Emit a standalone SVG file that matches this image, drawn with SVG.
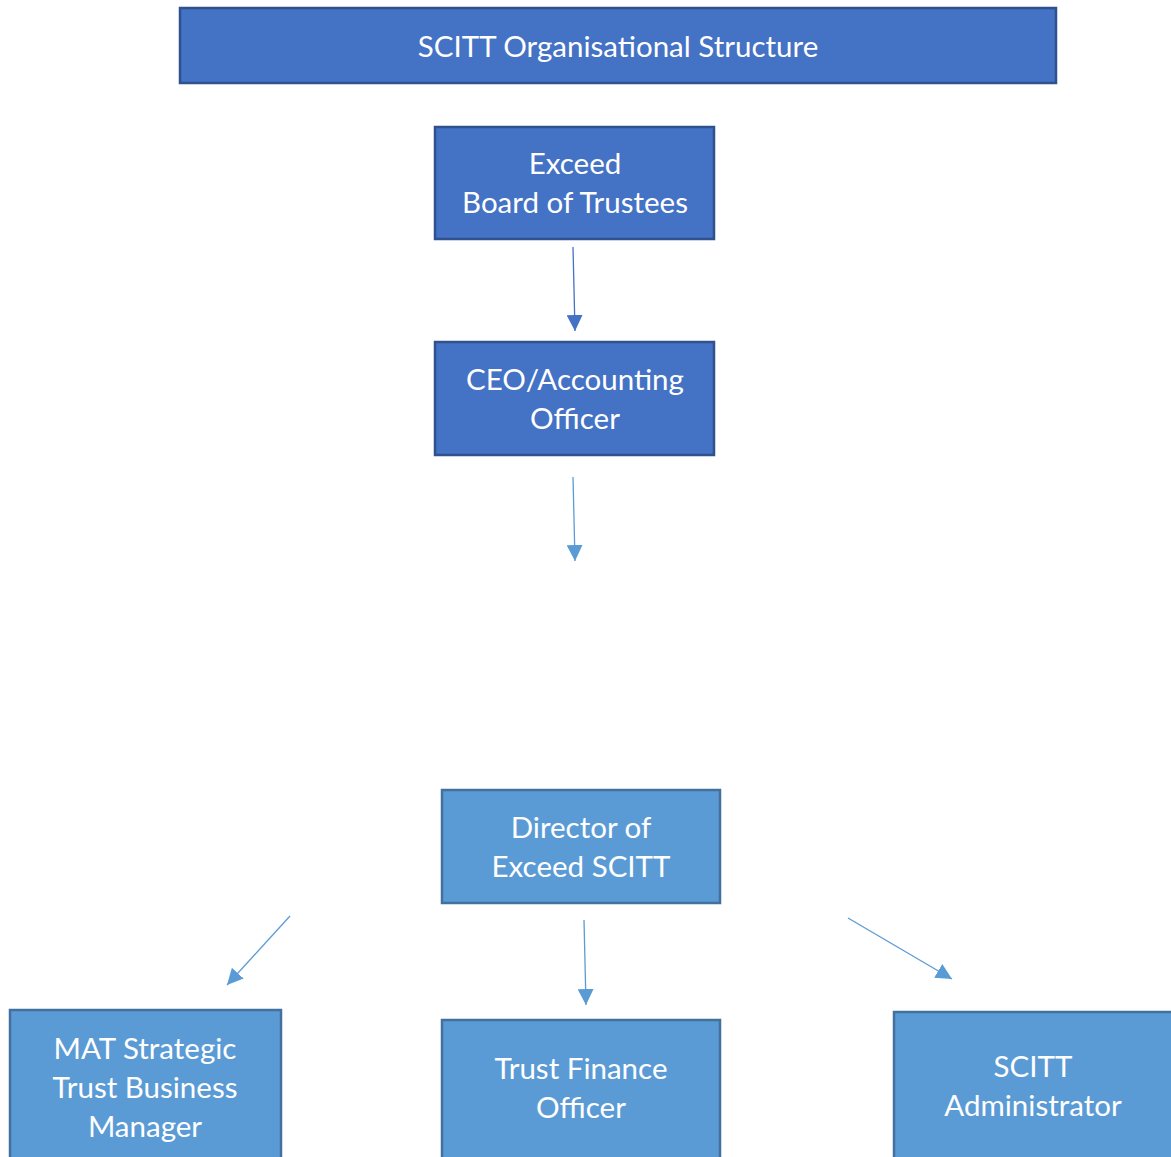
<svg xmlns="http://www.w3.org/2000/svg" width="1171" height="1157" viewBox="0 0 1171 1157">
<defs>
<style>
.dark{fill:#4472C4;stroke:#2F528F;stroke-width:2.5}
.light{fill:#5B9BD5;stroke:#41719C;stroke-width:2.5}
.t{font-family:Lato,"Open Sans",sans-serif;font-size:29.5px;fill:#ffffff;text-anchor:middle}
.c1{stroke:#4472C4;stroke-width:1.3;fill:none}
.c2{stroke:#5B9BD5;stroke-width:1.3;fill:none}
</style>
<marker id="ad" viewBox="0 0 10 10" refX="10" refY="5" markerWidth="16" markerHeight="16" markerUnits="userSpaceOnUse" orient="auto"><path d="M0,0 L10,5 L0,10 z" fill="#4472C4"/></marker>
<marker id="al" viewBox="0 0 10 10" refX="10" refY="5" markerWidth="16" markerHeight="16" markerUnits="userSpaceOnUse" orient="auto"><path d="M0,0 L10,5 L0,10 z" fill="#5B9BD5"/></marker>
</defs>
<rect width="1171" height="1157" fill="#ffffff"/>
<g id="title"><rect class="dark" x="180" y="8" width="876" height="75"/><text class="t" x="618" y="57">SCITT Organisational Structure</text></g>
<g id="board"><rect class="dark" x="435" y="127" width="279" height="112"/><text class="t" x="575" y="174">Exceed</text><text class="t" x="575" y="213">Board of Trustees</text></g>
<g id="ceo"><rect class="dark" x="435" y="342" width="279" height="113"/><text class="t" x="575" y="390">CEO/Accounting</text><text class="t" x="575" y="429">Officer</text></g>
<g id="director"><rect class="light" x="442" y="790" width="278" height="113"/><text class="t" x="581" y="838">Director of</text><text class="t" x="581" y="877">Exceed SCITT</text></g>
<g id="mat"><rect class="light" x="10" y="1010" width="271" height="160"/><text class="t" x="145" y="1059">MAT Strategic</text><text class="t" x="145" y="1098">Trust Business</text><text class="t" x="145" y="1137">Manager</text></g>
<g id="finance"><rect class="light" x="442" y="1020" width="278" height="150"/><text class="t" x="581" y="1079">Trust Finance</text><text class="t" x="581" y="1118">Officer</text></g>
<g id="admin"><rect class="light" x="894" y="1012" width="290" height="160"/><text class="t" x="1033" y="1077">SCITT</text><text class="t" x="1033" y="1116">Administrator</text></g>
<g id="connectors">
<line class="c1" x1="573" y1="247" x2="575" y2="331" marker-end="url(#ad)"/>
<line class="c2" x1="573" y1="477" x2="575" y2="561" marker-end="url(#al)"/>
<line class="c2" x1="584" y1="920" x2="586" y2="1005" marker-end="url(#al)"/>
<line class="c2" x1="290" y1="916" x2="227" y2="985" marker-end="url(#al)"/>
<line class="c2" x1="848" y1="918" x2="952" y2="979" marker-end="url(#al)"/>
</g>
</svg>
